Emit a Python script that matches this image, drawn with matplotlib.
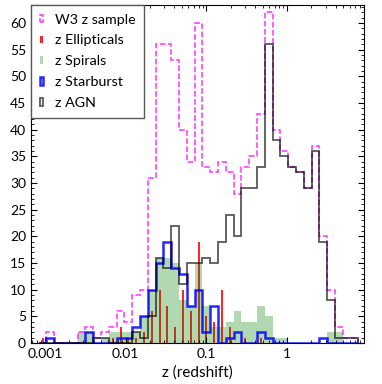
import numpy as np
import matplotlib.pyplot as plt

plt.rcParams['font.family'] = ['Lato', 'DejaVu Sans']

# 41 log-spaced bins, each ~0.097 dex wide
edges = np.logspace(-3.08, 0.884, 42)

w3_counts = [0, 2, 0, 0, 0, 2, 3, 1, 2, 3, 6, 4, 9, 10, 31, 56, 56, 53, 40, 34, 60,
             33, 32, 34, 32, 28, 33, 35, 43, 62, 40, 36, 33, 32, 29, 37, 20, 10, 3, 1, 1]
ell_counts = [1, 0, 0, 0, 0, 0, 0, 0, 0, 1, 3, 1, 1, 2, 6, 10, 7, 3, 10, 6, 19,
              5, 4, 10, 3, 0, 1, 0, 1, 0, 0, 0, 0, 0, 0, 0, 0, 0, 0, 0, 0]
spi_counts = [0, 0, 0, 0, 0, 2, 2, 0, 1, 2, 2, 2, 2, 5, 10, 16, 16, 15, 8, 7, 15,
              7, 3, 3, 4, 6, 4, 4, 7, 5, 1, 1, 0, 0, 0, 0, 0, 2, 2, 0, 0]
sb_counts = [0, 1, 0, 0, 0, 0, 2, 0, 0, 0, 1, 1, 3, 5, 10, 15, 19, 14, 13, 7, 10,
             2, 7, 0, 1, 2, 0, 0, 2, 1, 0, 0, 0, 0, 0, 0, 1, 0, 0, 0, 0]
agn_counts = [0, 0, 0, 0, 0, 0, 0, 1, 1, 0, 0, 0, 2, 1, 5, 16, 14, 22, 11, 15, 15,
              16, 15, 19, 24, 20, 29, 29, 33, 56, 38, 35, 33, 32, 29, 36, 19, 8, 1, 1, 1]

left = edges[:-1]

fig = plt.figure(figsize=(3.82, 3.84), dpi=100)
ax = fig.add_axes([0.081, 0.107, 0.872, 0.880])

ax.hist(left, bins=edges, weights=w3_counts, histtype='step', color='magenta',
        ls='--', lw=1.1, alpha=0.8, label='W3 z sample')
ax.hist(left, bins=edges, weights=ell_counts, rwidth=0.25, color='red',
        alpha=0.85, label='z Ellipticals')
ax.hist(left, bins=edges, weights=spi_counts, histtype='stepfilled', color='green',
        alpha=0.3, label='z Spirals')
ax.hist(left, bins=edges, weights=sb_counts, histtype='step', color='blue',
        lw=1.8, alpha=0.85, label='z Starburst')
ax.hist(left, bins=edges, weights=agn_counts, histtype='step', color='black',
        lw=1.3, alpha=0.65, label='z AGN')

ax.set_xscale('log')
ax.set_xlim(6.7e-4, 9.0)
ax.set_ylim(0, 63.4)
ax.set_xticks([0.001, 0.01, 0.1, 1])
ax.set_xticklabels(['0.001', '0.01', '0.1', '1'])
ax.set_yticks(range(0, 61, 5))
ax.set_yticks(range(0, 64), minor=True)
ax.tick_params(which='both', direction='in', top=True, right=True, labelsize=10)
ax.tick_params(which='major', length=4)
ax.tick_params(which='minor', length=2)
ax.set_xlabel('z (redshift)', fontsize=11)

ax.legend(loc='upper left', borderaxespad=0, fancybox=False, edgecolor='0.35',
          framealpha=1, handlelength=0.25, handleheight=0.45, handletextpad=0.8,
          fontsize=10.3, labelspacing=0.62, borderpad=0.6)

fig.savefig('out.png', dpi=100)
